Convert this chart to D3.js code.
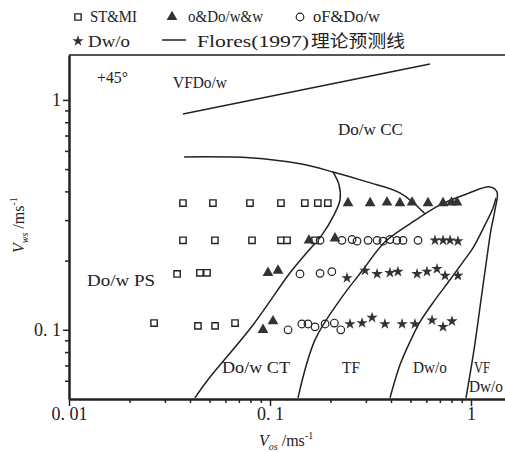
<!DOCTYPE html>
<html>
<head>
<meta charset="utf-8">
<script src="https://cdn.jsdelivr.net/npm/d3@7"></script>
<style>
  body { margin: 0; background: #fff; }
  svg { display: block; }
</style>
</head>
<body>
<div id="chart"></div>
<script>
// points: [Vos, Vws] in m/s
const stMI = [
  [0.0369, 0.356], [0.052, 0.356], [0.0795, 0.356], [0.1134, 0.356], [0.149, 0.356], [0.173, 0.356], [0.194, 0.356],
  [0.0369, 0.245], [0.0532, 0.245], [0.0814, 0.245], [0.1134, 0.245], [0.1216, 0.245], [0.1675, 0.245],
  [0.0345, 0.175], [0.0448, 0.177], [0.0486, 0.177],
  [0.0265, 0.107], [0.0438, 0.104], [0.0533, 0.104], [0.067, 0.107]
];
const oDoWW = [
  [0.2443, 0.356], [0.315, 0.356], [0.382, 0.358], [0.443, 0.356], [0.509, 0.358], [0.611, 0.356], [0.726, 0.356], [0.80, 0.358], [0.852, 0.358],
  [0.1563, 0.245], [0.2106, 0.25],
  [0.0977, 0.177], [0.1096, 0.181],
  [0.0923, 0.1], [0.1035, 0.109]
];
const oFDoW = [
  [0.1774, 0.245], [0.228, 0.245], [0.256, 0.247], [0.271, 0.243], [0.3075, 0.245], [0.341, 0.245], [0.365, 0.243],
  [0.395, 0.247], [0.428, 0.245], [0.459, 0.245], [0.545, 0.245],
  [0.141, 0.175], [0.1774, 0.176], [0.203, 0.179],
  [0.123, 0.1], [0.144, 0.106], [0.1545, 0.106], [0.1675, 0.103], [0.188, 0.106], [0.209, 0.107], [0.225, 0.1]
];
const dwO = [
  [0.662, 0.245], [0.726, 0.245], [0.787, 0.245], [0.861, 0.243],
  [0.2415, 0.168], [0.297, 0.181], [0.341, 0.175], [0.395, 0.177], [0.433, 0.179], [0.539, 0.175], [0.604, 0.179],
  [0.677, 0.184], [0.743, 0.172], [0.861, 0.172],
  [0.25, 0.106], [0.287, 0.107], [0.322, 0.113], [0.373, 0.106], [0.454, 0.106], [0.526, 0.106], [0.64, 0.11],
  [0.726, 0.103], [0.804, 0.109]
];

// Flores (1997) boundary lines
const lineVF = [[0.0369, 0.869], [0.625, 1.434]];
const linePS = [[0.0374, 0.565], [0.0795, 0.56], [0.141, 0.527], [0.2057, 0.486], [0.304, 0.44], [0.443, 0.394], [0.59, 0.32]];
const lineCT = [[0.2057, 0.486], [0.2205, 0.427], [0.223, 0.3674], [0.2082, 0.3162], [0.1815, 0.2588], [0.1493, 0.2119],
  [0.1258, 0.177], [0.0823, 0.105], [0.0491, 0.0606], [0.0423, 0.0506]];
const lineTF = [[0.1378, 0.0506], [0.1675, 0.0904], [0.223, 0.135], [0.29, 0.1824], [0.3735, 0.2414], [0.497, 0.289],
  [0.7014, 0.3497], [0.955, 0.3903], [1.2428, 0.4184], [1.347, 0.398], [1.316, 0.3325], [1.257, 0.2721],
  [1.215, 0.2228], [1.1215, 0.135], [1.035, 0.0818], [0.9444, 0.0506]];
const lineDwo = [[0.3955, 0.0506], [0.4434, 0.0704], [0.497, 0.0887], [0.5577, 0.1083], [0.6623, 0.135], [0.7865, 0.165],
  [0.9126, 0.1975], [1.0233, 0.2273], [1.174, 0.286], [1.287, 0.339], [1.332, 0.375]];

// ticks
const xMajor = [0.01, 0.1, 1];
const xMajorLabels = ["0. 01", "0. 1", "1"];
const xMinor = [0.02, 0.03, 0.04, 0.05, 0.06, 0.07, 0.08, 0.09, 0.2, 0.3, 0.4, 0.5, 0.6, 0.7, 0.8, 0.9, 2];
const yMajor = [0.1, 1];
const yMajorLabels = ["0. 1", "1"];
const yMinor = [0.06, 0.07, 0.08, 0.09, 0.2, 0.3, 0.4, 0.5, 0.6, 0.7, 0.8, 0.9];

const width = 505, height = 452;
const ink = "#222";
const serif = "'Liberation Serif', 'Times New Roman', serif";
const cjk = "'Noto Sans CJK SC', sans-serif";

const svg = d3.select("#chart").append("svg")
  .attr("width", width)
  .attr("height", height);

const x = d3.scaleLog().domain([0.01, 2]).range([69, 531.5]);
const y = d3.scaleLog().domain([0.05, 1.568]).range([399, 55]);

// top frame
svg.append("line")
  .attr("x1", 69).attr("x2", width).attr("y1", 55).attr("y2", 55)
  .attr("stroke", "#555").attr("stroke-width", 2);

// axes
const xAxis = svg.append("g").attr("transform", "translate(0,399)")
  .call(d3.axisBottom(x).tickValues(xMajor).tickSize(7).tickSizeOuter(0)
    .tickFormat((d, i) => xMajorLabels[i]));
svg.append("g").attr("transform", "translate(0,399)")
  .call(d3.axisBottom(x).tickValues(xMinor).tickSize(4).tickFormat(""))
  .select(".domain").remove();
const yAxis = svg.append("g").attr("transform", "translate(69,0)")
  .call(d3.axisLeft(y).tickValues(yMajor).tickSize(6).tickSizeOuter(0)
    .tickFormat((d, i) => yMajorLabels[i]));
svg.append("g").attr("transform", "translate(69,0)")
  .call(d3.axisLeft(y).tickValues(yMinor).tickSize(4).tickFormat(""))
  .select(".domain").remove();

svg.selectAll(".domain").attr("stroke", ink).attr("stroke-width", 2.5);
svg.selectAll(".tick line").attr("stroke", ink).attr("stroke-width", 1.5);
svg.selectAll(".tick text").attr("fill", ink).style("font-family", serif).style("font-size", "18px");
xAxis.selectAll(".tick text").attr("y", 8);
yAxis.selectAll(".tick text").attr("x", -8);

// boundary lines
const line = d3.line()
  .x(d => x(d[0]))
  .y(d => y(d[1]))
  .curve(d3.curveCatmullRom.alpha(0.5));
[lineVF, linePS, lineCT, lineTF, lineDwo].forEach(pts => {
  svg.append("path")
    .attr("d", line(pts))
    .attr("fill", "none")
    .attr("stroke", ink)
    .attr("stroke-width", 1.5);
});

// markers
const sq = d3.symbol().type(d3.symbolSquare).size(40);
const tri = d3.symbol().type(d3.symbolTriangle).size(50);
const star = d3.symbol().type(d3.symbolStar).size(40);

svg.selectAll(".sq").data(stMI).enter().append("path")
  .attr("d", sq)
  .attr("transform", d => "translate(" + x(d[0]) + "," + y(d[1]) + ")")
  .attr("fill", "#fff").attr("stroke", ink).attr("stroke-width", 1.4);
svg.selectAll(".ci").data(oFDoW).enter().append("circle")
  .attr("cx", d => x(d[0])).attr("cy", d => y(d[1])).attr("r", 3.8)
  .attr("fill", "none").attr("stroke", ink).attr("stroke-width", 1.2);
svg.selectAll(".tr").data(oDoWW).enter().append("path")
  .attr("d", tri)
  .attr("transform", d => "translate(" + x(d[0]) + "," + y(d[1]) + ")")
  .attr("fill", "#333");
svg.selectAll(".st").data(dwO).enter().append("path")
  .attr("d", star)
  .attr("transform", d => "translate(" + x(d[0]) + "," + y(d[1]) + ")")
  .attr("fill", "#333");

// region labels
function label(t, px, py, len, size) {
  svg.append("text")
    .attr("x", px).attr("y", py)
    .attr("textLength", len).attr("lengthAdjust", "spacingAndGlyphs")
    .style("font-family", serif).style("font-size", (size || 16) + "px")
    .attr("fill", ink)
    .text(t);
}
label("+45°", 97, 83, 31);
label("VFDo/w", 173, 88, 54);
label("Do/w  CC", 338, 135, 65);
label("Do/w  PS", 87, 286, 68);
label("Do/w  CT", 222, 373, 68);
label("TF", 342, 373, 18);
label("Dw/o", 413, 373, 34);
label("VF", 474, 373, 16);
label("Dw/o", 469, 392, 34);

// legend
svg.append("path").attr("d", sq).attr("transform", "translate(78,17)")
  .attr("fill", "#fff").attr("stroke", ink).attr("stroke-width", 1.4);
svg.append("path").attr("d", tri).attr("transform", "translate(172,17)").attr("fill", "#333");
svg.append("circle").attr("cx", 300).attr("cy", 17).attr("r", 3.8)
  .attr("fill", "none").attr("stroke", ink).attr("stroke-width", 1.2);
svg.append("path").attr("d", star).attr("transform", "translate(78,41)").attr("fill", "#333");
svg.append("line").attr("x1", 162).attr("x2", 186).attr("y1", 40).attr("y2", 40)
  .attr("stroke", ink).attr("stroke-width", 1.5);
label("ST&MI", 90, 22, 47);
label("o&Do/w&w", 188, 22, 75);
label("oF&Do/w", 313, 22, 67);
label("Dw/o", 88, 47, 42);
label("Flores(1997)", 197, 47, 112);
svg.append("text")
  .attr("x", 311).attr("y", 47)
  .attr("textLength", 94).attr("lengthAdjust", "spacingAndGlyphs")
  .style("font-family", cjk).style("font-size", "17px")
  .attr("fill", ink)
  .text("理论预测线");

// axis titles
const xt = svg.append("text")
  .attr("x", 259).attr("y", 446)
  .style("font-family", serif).style("font-size", "16px").attr("fill", ink);
xt.append("tspan").style("font-style", "italic").text("V");
xt.append("tspan").style("font-style", "italic").style("font-size", "10px").attr("dy", 4).text("os");
xt.append("tspan").attr("dy", -4).text(" /ms");
xt.append("tspan").style("font-size", "10px").attr("dy", -7).text("-1");

const yt = svg.append("text")
  .attr("transform", "translate(24,253) rotate(-90)")
  .style("font-family", serif).style("font-size", "16px").attr("fill", ink);
yt.append("tspan").style("font-style", "italic").text("V");
yt.append("tspan").style("font-style", "italic").style("font-size", "10px").attr("dy", 4).text("ws");
yt.append("tspan").attr("dy", -4).text(" /ms");
yt.append("tspan").style("font-size", "10px").attr("dy", -7).text("-1");
</script>
</body>
</html>
